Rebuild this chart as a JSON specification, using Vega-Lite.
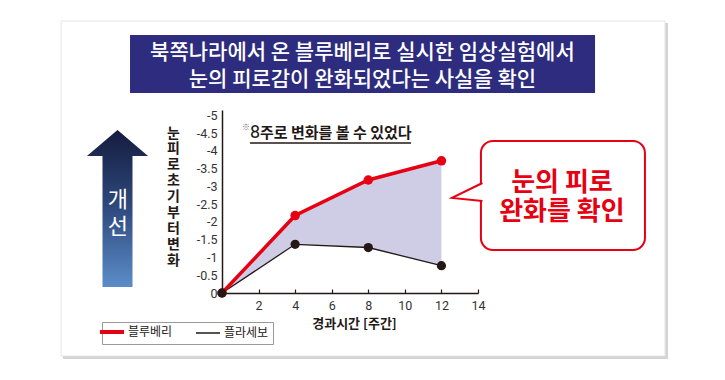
{
  "$schema": "https://vega.github.io/schema/vega-lite/v6.json",
  "width": 256,
  "height": 183,
  "autosize": {"type": "none"},
  "padding": {"left": 222, "top": 110, "right": 247, "bottom": 87},
  "background": "#ffffff",
  "config": {"view": {"stroke": null}, "axis": {"labelOverlap": false}},
  "datasets": {
    "series": [
      {"week": 0, "series": "블루베리", "value": 0},
      {"week": 4, "series": "블루베리", "value": -2.18},
      {"week": 8, "series": "블루베리", "value": -3.18},
      {"week": 12, "series": "블루베리", "value": -3.72},
      {"week": 0, "series": "플라세보", "value": 0},
      {"week": 4, "series": "플라세보", "value": -1.37},
      {"week": 8, "series": "플라세보", "value": -1.28},
      {"week": 12, "series": "플라세보", "value": -0.77}
    ]
  },
  "layer": [
    {
      "data": {"values": [{"k": "shadow"}]},
      "mark": {"type": "rect", "fill": "#d4d4d4"},
      "encoding": {"x": {"datum": -8.7}, "x2": {"datum": 24.39}, "y": {"datum": -7.598}, "y2": {"datum": 1.857}}
    },
    {
      "data": {"values": [{"k": "card"}]},
      "mark": {"type": "rect", "fill": "#ffffff", "stroke": "#e4e4e4", "strokeWidth": 1},
      "encoding": {"x": {"datum": -8.8}, "x2": {"datum": 24.23}, "y": {"datum": -7.655}, "y2": {"datum": 1.773}}
    },
    {
      "data": {"values": [{"k": "titlebox"}]},
      "mark": {"type": "rect", "fill": "#2d2c7e"},
      "encoding": {"x": {"datum": -5.03}, "x2": {"datum": 20.4}, "y": {"datum": -7.26}, "y2": {"datum": -5.63}}
    },
    {
      "data": {"values": [{"t": "북쪽나라에서 온 블루베리로 실시한 임상실험에서\n눈의 피로감이 완화되었다는 사실을 확인"}]},
      "mark": {"type": "text", "lineBreak": "\n", "lineHeight": 27, "font": "Noto Sans CJK KR", "fontSize": 21, "fontWeight": 500, "color": "#ffffff", "align": "center", "baseline": "middle"},
      "encoding": {"x": {"datum": 7.68}, "y": {"datum": -6.754}, "text": {"field": "t"}}
    },
    {
      "data": {"values": [{"k": "arrow"}]},
      "mark": {"type": "point", "shape": "M0,-1 L0.389,-0.669 L0.191,-0.669 L0.191,1 L-0.191,1 L-0.191,-0.669 L-0.389,-0.669 Z", "filled": true, "opacity": 1, "size": 24649, "strokeWidth": 0,
        "fill": {"gradient": "linear", "x1": 0, "y1": 0, "x2": 0, "y2": 1, "stops": [{"offset": 0, "color": "#151c3e"}, {"offset": 0.5, "color": "#2f4a7e"}, {"offset": 1, "color": "#5b8dc8"}]}},
      "encoding": {"x": {"datum": -5.715}, "y": {"datum": -2.378}}
    },
    {
      "data": {"values": [{"t": "개\n선"}]},
      "mark": {"type": "text", "lineBreak": "\n", "lineHeight": 27, "font": "Noto Sans CJK KR", "fontSize": 22, "color": "#ffffff", "align": "center", "baseline": "middle"},
      "encoding": {"x": {"datum": -5.7}, "y": {"datum": -2.617}, "text": {"field": "t"}}
    },
    {
      "data": {"name": "series"},
      "transform": [{"pivot": "series", "value": "value", "groupby": ["week"]}],
      "mark": {"type": "area", "color": "#cfcde6", "opacity": 1},
      "encoding": {
        "x": {"field": "week", "type": "quantitative"},
        "y": {"field": "블루베리", "type": "quantitative"},
        "y2": {"field": "플라세보"}
      }
    },
    {
      "data": {"name": "series"},
      "transform": [{"filter": "datum.series === '플라세보'"}],
      "mark": {"type": "line", "strokeWidth": 1.3},
      "encoding": {
        "x": {"field": "week", "type": "quantitative",
          "scale": {"domain": [0, 14], "nice": false, "zero": false},
          "axis": {"values": [2, 4, 6, 8, 10, 12, 14], "tickCount": 14, "title": "경과시간 [주간]", "grid": false, "zindex": 1,
            "domainColor": "#231815", "domainWidth": 1.5, "tickColor": "#231815", "tickWidth": 1.2, "tickSize": -4,
            "labelFont": "Roboto", "labelFontSize": 12.5, "labelColor": "#333333", "labelPadding": 10, "labelFlush": false,
            "titleFont": "Noto Sans CJK KR", "titleFontSize": 13, "titleFontWeight": "bold", "titleColor": "#231815",
            "titleX": 132, "titleY": 34, "titleBaseline": "alphabetic", "titleAlign": "center"}},
        "y": {"field": "value", "type": "quantitative",
          "scale": {"domain": [0, -5.15], "nice": false, "zero": false},
          "axis": {"values": [0, -0.5, -1, -1.5, -2, -2.5, -3, -3.5, -4, -4.5, -5], "tickCount": 11, "labelExpr": "'' + datum.value", "grid": false, "zindex": 1,
            "ticks": false, "tickSize": 0, "labelPadding": 5, "domainColor": "#231815", "domainWidth": 1.5,
            "labelFont": "Roboto", "labelFontSize": 12.5, "labelColor": "#333333", "labelOverlap": false,
            "title": ["눈", "피", "로", "초", "기", "부", "터", "변", "화"], "titleAngle": 0, "titleX": -49, "titleY": 16,
            "titleBaseline": "top", "titleAlign": "center", "titleLineHeight": 15.9, "titleFont": "Noto Sans CJK KR",
            "titleFontSize": 14, "titleFontWeight": "bold", "titleColor": "#231815"}},
        "color": {"field": "series", "type": "nominal",
          "scale": {"domain": ["블루베리", "플라세보"], "range": ["#e60012", "#231815"]},
          "legend": {"orient": "none", "legendX": -120, "legendY": 212, "direction": "horizontal", "title": null,
            "symbolType": "stroke", "symbolSize": 576, "symbolStrokeWidth": 3, "labelFont": "Noto Sans CJK KR",
            "labelFontSize": 12, "labelColor": "#231815", "strokeColor": "#999999", "fillColor": "#ffffff",
            "padding": 4, "columnPadding": 20, "labelOffset": 10, "zindex": 1,
            "encode": {"symbols": {"update": {"strokeWidth": {"signal": "datum.value === '블루베리' ? 4 : 1.5"}}}}}}
      }
    },
    {
      "data": {"name": "series"},
      "transform": [{"filter": "datum.series === '블루베리'"}],
      "mark": {"type": "line", "strokeWidth": 3.5},
      "encoding": {
        "x": {"field": "week", "type": "quantitative"},
        "y": {"field": "value", "type": "quantitative"},
        "color": {"field": "series", "type": "nominal"}
      }
    },
    {
      "data": {"name": "series"},
      "transform": [{"filter": "datum.series === '블루베리'"}],
      "mark": {"type": "point", "filled": true, "opacity": 1, "size": 90, "color": "#e60012"},
      "encoding": {
        "x": {"field": "week", "type": "quantitative"},
        "y": {"field": "value", "type": "quantitative"}
      }
    },
    {
      "data": {"name": "series"},
      "transform": [{"filter": "datum.series === '플라세보'"}],
      "mark": {"type": "point", "filled": true, "opacity": 1, "size": 85, "color": "#231815"},
      "encoding": {
        "x": {"field": "week", "type": "quantitative"},
        "y": {"field": "value", "type": "quantitative"}
      }
    },
    {
      "data": {"values": [{"t": "※"}]},
      "mark": {"type": "text", "font": "Noto Sans CJK KR", "fontSize": 8, "color": "#666666", "align": "center", "baseline": "middle"},
      "encoding": {"x": {"datum": 1.31}, "y": {"datum": -4.643}, "text": {"field": "t"}}
    },
    {
      "data": {"values": [{"t": "8"}]},
      "mark": {"type": "text", "font": "Roboto", "fontSize": 18, "color": "#231815", "align": "left", "baseline": "alphabetic"},
      "encoding": {"x": {"datum": 1.53}, "y": {"datum": -4.362}, "text": {"field": "t"}}
    },
    {
      "data": {"values": [{"t": "주로 변화를 볼 수 있었다"}]},
      "mark": {"type": "text", "font": "Noto Sans CJK KR", "fontSize": 15, "fontWeight": "bold", "color": "#231815", "align": "left", "baseline": "alphabetic"},
      "encoding": {"x": {"datum": 2.078}, "y": {"datum": -4.362}, "text": {"field": "t"}}
    },
    {
      "data": {"values": [{"k": "underline"}]},
      "mark": {"type": "rule", "color": "#231815", "strokeWidth": 1.3},
      "encoding": {"x": {"datum": 1.53}, "x2": {"datum": 10.34}, "y": {"datum": -4.221}}
    },
    {
      "data": {"values": [{"k": "callout"}]},
      "mark": {"type": "rect", "fill": "#ffffff", "stroke": "#e60012", "strokeWidth": 2, "cornerRadius": 12},
      "encoding": {"x": {"datum": 14.16}, "x2": {"datum": 23.13}, "y": {"datum": -4.278}, "y2": {"datum": -1.21}}
    },
    {
      "data": {"values": [{"k": "pointer"}]},
      "mark": {"type": "point", "shape": "M1,-0.59 L-1,0.39 L1,0.59", "filled": true, "opacity": 1, "size": 930, "fill": "#ffffff", "stroke": "#e60012", "strokeWidth": 2},
      "encoding": {"x": {"datum": 13.41}, "y": {"datum": -2.842}}
    },
    {
      "data": {"values": [{"t": "눈의 피로\n완화를 확인"}]},
      "mark": {"type": "text", "lineBreak": "\n", "lineHeight": 29, "font": "Noto Sans CJK KR", "fontSize": 26, "fontWeight": "bold", "color": "#e60012", "align": "center", "baseline": "middle"},
      "encoding": {"x": {"datum": 18.59}, "y": {"datum": -3.096}, "text": {"field": "t"}}
    }
  ]
}
